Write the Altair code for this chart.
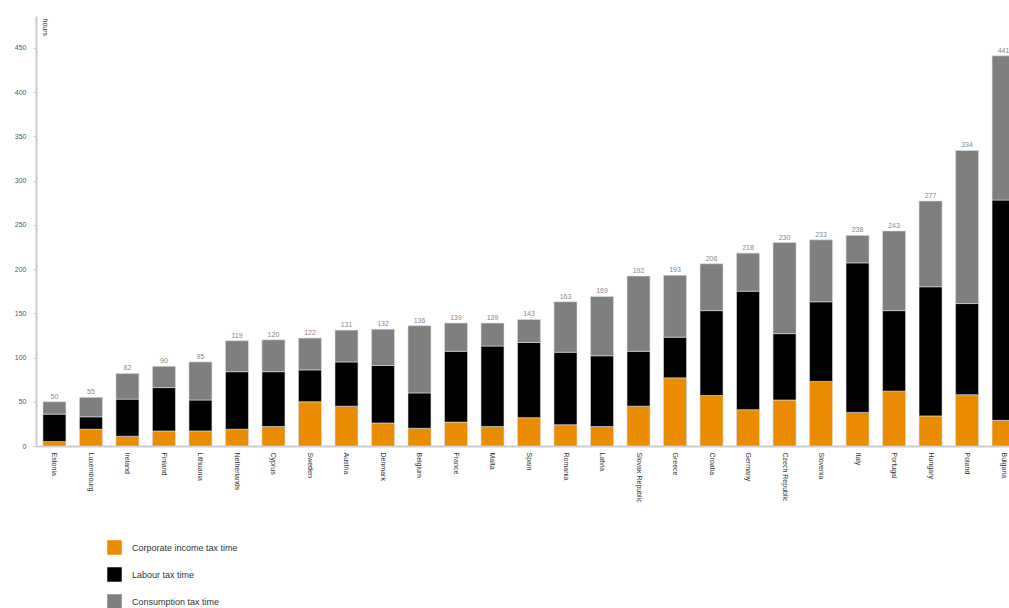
import altair as alt
import pandas as pd

countries = ["Estonia", "Luxembourg", "Ireland", "Finland", "Lithuania", "Netherlands",
             "Cyprus", "Sweden", "Austria", "Denmark", "Belgium", "France", "Malta",
             "Spain", "Romania", "Latvia", "Slovak Republic", "Greece", "Croatia",
             "Germany", "Czech Republic", "Slovenia", "Italy", "Portugal", "Hungary",
             "Poland", "Bulgaria"]
corporate = [5, 19, 11, 17, 17, 19, 22, 50, 45, 26, 20, 27, 22, 32, 24, 22, 45, 77,
             57, 41, 52, 73, 38, 62, 34, 58, 29]
labour = [31, 14, 42, 49, 35, 65, 62, 36, 50, 65, 40, 80, 91, 85, 82, 80, 62, 46,
          96, 134, 75, 90, 169, 91, 146, 103, 249]
consumption = [14, 22, 29, 24, 43, 35, 36, 36, 36, 41, 76, 32, 26, 26, 57, 67, 85, 70,
               53, 43, 103, 70, 31, 90, 97, 173, 163]
series = ["Corporate income tax time", "Labour tax time", "Consumption tax time"]
colors = ["#EB8C00", "#000000", "#7F7F7F"]
y_ticks = [0, 50, 100, 150, 200, 250, 300, 350, 400, 450]

rows = []
for i, c in enumerate(countries):
    for k, (s, vals) in enumerate(zip(series, [corporate, labour, consumption])):
        rows.append({"country": c, "series": s, "hours": vals[i], "ord": k})
df = pd.DataFrame(rows)
totals = pd.DataFrame({
    "country": countries,
    "total": [a + b + c for a, b, c in zip(corporate, labour, consumption)],
})

FONT = "Liberation Sans"

x_enc = alt.X(
    "country:N", sort=countries, title=None,
    scale=alt.Scale(range=[0, 986], paddingInner=0.37, paddingOuter=0.19),
    axis=alt.Axis(labelAngle=90, labelAlign="left", labelBaseline="middle",
                  labelFontSize=7, labelColor="#333333", labelPadding=6,
                  ticks=False, domainColor="#cccccc", domainWidth=2,
                  labelFont=FONT),
)
y_scale = alt.Scale(domain=[0, 486], nice=False)

bars = alt.Chart(df).mark_bar(stroke="#dddddd", strokeWidth=0.6).encode(
    x=x_enc,
    y=alt.Y("hours:Q", stack="zero", scale=y_scale, title="hours",
            axis=alt.Axis(values=y_ticks, labelFontSize=7, labelColor="#555555",
                          labelFont=FONT, grid=False, domainColor="#cccccc",
                          domainWidth=2, tickColor="#cccccc", tickSize=3,
                          labelPadding=7, titleAngle=90, titleX=5, titleY=2,
                          titleAlign="left", titleBaseline="bottom",
                          titleFontSize=7, titleFontWeight="normal",
                          titleColor="#333333", titleFont=FONT)),
    color=alt.Color("series:N", scale=alt.Scale(domain=series, range=colors),
                    legend=alt.Legend(title=None, orient="none", legendX=71,
                                      legendY=524, symbolType="square",
                                      symbolSize=210, symbolStrokeWidth=0,
                                      labelFontSize=9, labelFont=FONT,
                                      labelColor="#333333", rowPadding=12,
                                      labelOffset=10)),
    order=alt.Order("ord:Q", sort="ascending"),
)

labels = alt.Chart(totals).mark_text(fontSize=7, color="#888888", dy=-5, font=FONT).encode(
    x=alt.X("country:N", sort=countries),
    y=alt.Y("total:Q", scale=y_scale),
    text=alt.Text("total:Q"),
)

chart = alt.layer(bars, labels).properties(
    width=973, height=430,
    background="white",
    autosize=alt.AutoSizeParams(type="none"),
    padding={"left": 36, "top": 16, "right": 0, "bottom": 162},
).configure_view(stroke=None)

chart.save("out.html", embed_options={"renderer": "svg", "actions": False})
